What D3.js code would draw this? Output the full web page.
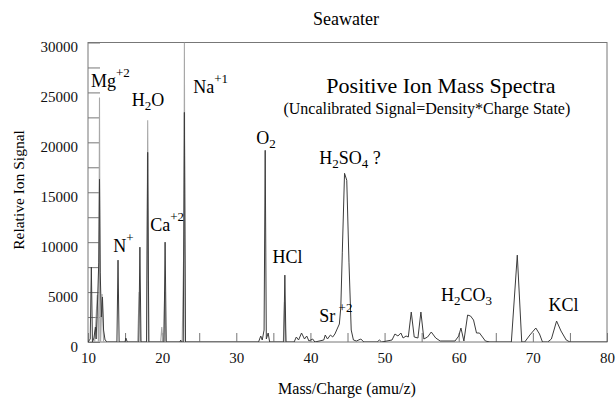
<!DOCTYPE html>
<html>
<head>
<meta charset="utf-8">
<script src="https://cdn.jsdelivr.net/npm/d3@7"></script>
<style>
  body { margin: 0; background: #fff; }
  svg text { font-family: "Liberation Serif", "Times New Roman", Tinos, "DejaVu Serif", serif; }
</style>
</head>
<body>
<div id="app"></div>
<script>
const WIDTH = 616;
const HEIGHT = 399;
const MARGIN = { top: 42.5, right: 9, bottom: 57, left: 88 };
const SERIF = '"Liberation Serif", "Times New Roman", Tinos, "DejaVu Serif", serif';

// x domain (amu/z) and y domain (signal)
const massDomain = [10, 80];
const signalDomain = [0, 30000];
const massTicks = [10, 15, 20, 25, 30, 35, 40, 45, 50, 55, 60, 65, 70, 75, 80];
const massLabels = [10, 20, 30, 40, 50, 60, 70, 80];
const signalTicks = [0, 2500, 5000, 7500, 10000, 12500, 15000, 17500, 20000, 22500, 25000, 27500, 30000];
const signalLabels = [0, 5000, 10000, 15000, 20000, 25000, 30000];

// main (dark) trace: [mass, signal]
const darkTrace = [
  [10.0, 0], [10.3, 300], [10.45, 7500], [10.6, 0], [10.8, 400], [11.0, 1500], [11.1, 300],
  [11.3, 4300], [11.45, 8000], [11.55, 16300], [11.65, 7000], [11.8, 2500], [11.95, 4500],
  [12.1, 1200], [12.3, 200], [12.6, 0],
  [13.9, 0], [14.05, 8200], [14.2, 0], [15.0, 0], [15.1, 400], [15.3, 0],
  [16.85, 0], [17.0, 9500], [17.15, 0], [17.9, 0], [18.05, 19000], [18.2, 0],
  [20.25, 0], [20.4, 10000], [20.55, 0], [22.4, 0], [22.5, 200], [22.6, 0],
  [22.85, 0], [23.0, 23000], [23.15, 0],
  [33.0, 0], [33.3, 600], [33.5, 200], [33.75, 1200], [33.9, 19200], [34.05, 300],
  [34.3, 900], [34.5, 0], [36.4, 0], [36.55, 6700], [36.7, 0],
  [37.8, 0], [38.1, 500], [38.4, 200], [38.8, 900], [39.2, 300], [39.5, 600], [39.8, 100],
  [40.3, 300], [40.6, 0], [41.8, 200], [42.0, 700], [42.3, 300], [42.7, 700], [43.0, 500],
  [43.3, 800], [43.6, 1300], [43.9, 1800], [44.1, 3500], [44.3, 9000], [44.6, 16900],
  [44.9, 16200], [45.2, 8000], [45.5, 1200], [45.8, 200], [46.2, 100], [46.8, 300], [47.2, 0],
  [49.0, 0], [49.3, 200], [49.6, 0], [51.0, 200], [51.4, 800], [51.8, 600], [52.2, 900],
  [52.5, 400], [52.9, 600], [53.2, 500], [53.6, 3000], [54.0, 500], [54.5, 400], [54.9, 3000],
  [55.3, 300], [55.8, 500], [56.3, 1000], [56.9, 400], [57.5, 100], [59.5, 100], [60.0, 600],
  [60.3, 1400], [60.7, 100], [61.2, 2700], [61.6, 2600], [62.0, 2200], [62.4, 900], [62.8, 900],
  [63.2, 500], [63.6, 100], [64.2, 0], [67.1, 0], [67.9, 8700], [68.5, 0], [68.9, 0],
  [69.6, 700], [70.4, 1400], [70.9, 800], [71.3, 0], [72.0, 0], [72.5, 300], [73.2, 2100],
  [73.8, 1100], [74.5, 200], [75.0, 0], [80.0, 0]
];

// second (light) trace, seen where the peaks overshoot the dark one
const lightTrace = [
  [10.9, 0], [11.25, 4700], [11.4, 0], [11.45, 0], [11.55, 24500], [11.65, 0],
  [11.7, 0], [11.9, 4800], [12.1, 0],
  [16.7, 0], [16.9, 5000], [17.1, 0], [17.9, 0], [18.05, 22200], [18.2, 0],
  [19.8, 0], [19.95, 1500], [20.1, 0], [20.2, 0], [20.35, 5000], [20.5, 0],
  [22.7, 0], [22.95, 11000], [23.0, 30000], [23.1, 0],
  [36.35, 0], [36.5, 4000], [36.7, 0]
];

const peakLabels = [
  { parts: [["Mg", 0], ["+2", 1]], mass: 10.4, signal: 25500 },
  { parts: [["H", 0], ["2", -1], ["O", 0]], mass: 15.9, signal: 23600 },
  { parts: [["Na", 0], ["+1", 1]], mass: 24.2, signal: 24900 },
  { parts: [["O", 0], ["2", -1]], mass: 32.7, signal: 19870 },
  { parts: [["H", 0], ["2", -1], ["SO", 0], ["4", -1], [" ?", 0]], mass: 41.2, signal: 17870 },
  { parts: [["N", 0], ["+", 1]], mass: 13.4, signal: 8970 },
  { parts: [["Ca", 0], ["+2", 1]], mass: 18.4, signal: 11070 },
  { parts: [["HCl", 0]], mass: 34.9, signal: 7870 },
  { parts: [["Sr", 0], [" +2", 1]], mass: 41.2, signal: 2000 },
  { parts: [["H", 0], ["2", -1], ["CO", 0], ["3", -1]], mass: 57.6, signal: 4070 },
  { parts: [["KCl", 0]], mass: 72.1, signal: 3070 }
];

const innerW = WIDTH - MARGIN.left - MARGIN.right;
const innerH = HEIGHT - MARGIN.top - MARGIN.bottom;

const x = d3.scaleLinear().domain(massDomain).range([0, innerW]);
const y = d3.scaleLinear().domain(signalDomain).range([innerH, 0]);

const svg = d3.select("#app")
  .append("svg")
  .attr("width", WIDTH)
  .attr("height", HEIGHT)
  .attr("font-family", SERIF);

const g = svg.append("g").attr("transform", `translate(${MARGIN.left},${MARGIN.top})`);

drawAxes();
drawTraces();
drawLabels();

function drawAxes() {
  const yAxis = d3.axisLeft(y)
    .tickValues(signalTicks)
    .tickSize(-12)
    .tickPadding(10)
    .tickFormat((d) => (signalLabels.includes(d) ? d : ""));

  const xAxis = d3.axisBottom(x)
    .tickValues(massTicks)
    .tickSize(-9)
    .tickPadding(10)
    .tickFormat((d) => (massLabels.includes(d) ? d : ""));

  const ya = g.append("g").call(yAxis);
  const xa = g.append("g").attr("transform", `translate(0,${innerH})`).call(xAxis);

  [ya, xa].forEach((a) => {
    a.attr("font-family", SERIF).attr("font-size", 15);
    a.select(".domain").remove();
    a.selectAll("line").attr("stroke", "#777");
    a.selectAll("text").attr("fill", "#111");
  });
  ya.selectAll("text").attr("dy", "0.6em");

  g.append("rect")
    .attr("width", innerW)
    .attr("height", innerH)
    .attr("fill", "none")
    .attr("stroke", "#777")
    .attr("stroke-width", 1);

  svg.append("text")
    .attr("x", 346)
    .attr("y", 25)
    .attr("text-anchor", "middle")
    .attr("font-size", 18)
    .text("Seawater");

  svg.append("text")
    .attr("transform", `translate(24,${190}) rotate(-90)`)
    .attr("text-anchor", "middle")
    .attr("font-size", 15.5)
    .text("Relative Ion Signal");

  svg.append("text")
    .attr("x", 347)
    .attr("y", 394)
    .attr("text-anchor", "middle")
    .attr("font-size", 16)
    .text("Mass/Charge (amu/z)");
}

function drawTraces() {
  const line = d3.line()
    .x((d) => x(d[0]))
    .y((d) => y(d[1]));

  svg.append("clipPath").attr("id", "plot-clip")
    .append("rect").attr("width", innerW).attr("height", innerH);

  const traces = g.append("g").attr("clip-path", "url(#plot-clip)");

  traces.append("path")
    .datum(lightTrace)
    .attr("d", line)
    .attr("fill", "none")
    .attr("stroke", "#a8a8a8")
    .attr("stroke-width", 1.1);

  traces.append("path")
    .datum(darkTrace)
    .attr("d", line)
    .attr("fill", "none")
    .attr("stroke", "#3c3c3c")
    .attr("stroke-width", 1);
}

function drawLabels() {
  g.append("text")
    .attr("x", x(57.6))
    .attr("y", y(24900))
    .attr("text-anchor", "middle")
    .attr("font-size", 22)
    .text("Positive Ion Mass Spectra");

  g.append("text")
    .attr("x", x(55.7))
    .attr("y", y(22800))
    .attr("text-anchor", "middle")
    .attr("font-size", 16)
    .text("(Uncalibrated Signal=Density*Charge State)");

  peakLabels.forEach((lab) => {
    const t = g.append("text")
      .attr("x", x(lab.mass))
      .attr("y", y(lab.signal))
      .attr("font-size", 18);
    let offset = 0;
    lab.parts.forEach(([s, shift]) => {
      const target = shift === 1 ? -10 : shift === -1 ? 4 : 0;
      const ts = t.append("tspan").text(s).attr("dy", target - offset);
      if (shift !== 0) ts.attr("font-size", 13);
      offset = target;
    });
  });
}
</script>
</body>
</html>
